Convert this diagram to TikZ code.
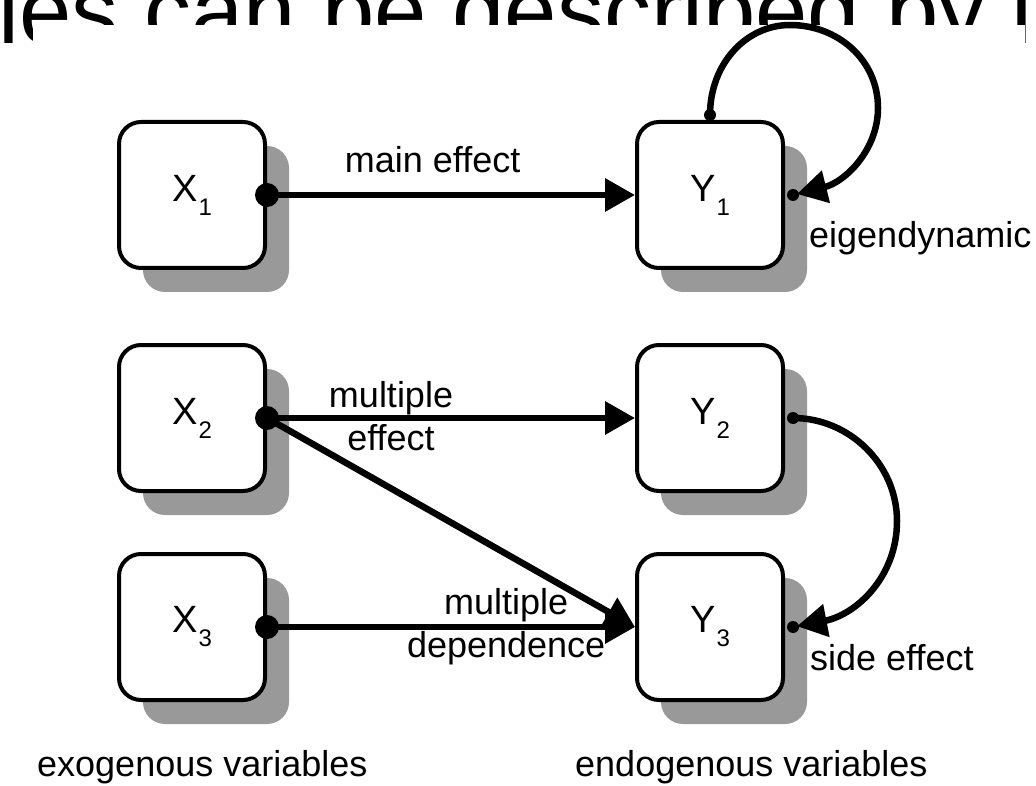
\documentclass[tikz,border=0pt]{standalone}
\usepackage{fontspec}
\setmainfont{Liberation Sans}
\usepackage{tikz}
\usetikzlibrary{arrows.meta}
\usetikzlibrary{shadows}

\definecolor{shadowgray}{RGB}{153,153,153}
\newcommand{\subvar}[2]{#1\raisebox{-14pt}{\fontsize{24}{24}\selectfont\kern1pt #2}}

\begin{document}
\begin{tikzpicture}[x=1pt,y=-1pt]
      \useasboundingbox (0,0) rectangle (1036,786);
      \clip (0,0) rectangle (1036,786);

      % slide heading, mostly hidden behind the figure
      \node[anchor=base west,inner sep=0,font=\fontsize{94}{94}\selectfont] (heading) at (-2,44) {les can be described by l};
      \fill[white] (33,25) rectangle (1025,786);

      \begin{scope}[every node/.style={draw,line width=4pt,rounded corners=22pt,
          minimum width=146pt,minimum height=146pt,fill=white,
          font=\fontsize{38}{38}\selectfont,
          drop shadow={shadow xshift=24pt,shadow yshift=-24pt,fill=shadowgray,opacity=1}}]
        \node (X1) at (192,195) {\subvar{X}{1}};
        \node (X2) at (192,418) {\subvar{X}{2}};
        \node (X3) at (192,627) {\subvar{X}{3}};
        \node (Y1) at (710,195) {\subvar{Y}{1}};
        \node (Y2) at (710,418) {\subvar{Y}{2}};
        \node (Y3) at (710,627) {\subvar{Y}{3}};
      \end{scope}

      \coordinate (Y1top) at ([yshift=5pt]Y1.north);
      \coordinate (Y1right) at ([xshift=8pt]Y1.east);
      \coordinate (Y2right) at ([xshift=8pt]Y2.east);
      \coordinate (Y3right) at ([xshift=8pt]Y3.east);

      \begin{scope}[>={Triangle[length=30pt,width=32pt]},
          every node/.style={inner sep=0,font=\fontsize{36}{43}\selectfont,align=center},
          every edge/.style={draw=black,line width=6.5pt}]
        \path [->] (X1.east) edge node[pos=0.45,above=19pt] {main effect} (Y1.west);
        \path [->] (X2.east) edge node[pos=0.337,yshift=1.5pt] {multiple\\effect} (Y2.west);
        \path [->] (X2.east) edge (Y3.west);
        \path [->] (X3.east) edge node[pos=0.65] {multiple\\dependence} (Y3.west);
        \draw [->,line width=6.5pt,shorten >=4pt] (Y1top) .. controls (710,64) and (746,25) .. (790,25)
          .. controls (838,25) and (878,60) .. (878,108) .. controls (878,150) and (845,182) .. (Y1right);
        \draw [->,line width=6.5pt,shorten >=4pt] (Y2right) .. controls (850,418) and (897,465) .. (897,521)
          .. controls (897,578) and (855,615) .. (Y3right);

        \foreach \n in {X1,X2,X3} \fill (\n.east) circle (12pt);
        \foreach \c in {Y1top,Y1right,Y2right,Y3right} \fill (\c) circle (6pt);

        \node[anchor=base west] (eigen) at (809,248) {eigendynamic};
        \node[anchor=base west] (side) at (810,670) {side effect};
        \node[anchor=base west] (exo) at (37,776) {exogenous variables};
        \node[anchor=base west] (endo) at (575,776) {endogenous variables};
      \end{scope}
\end{tikzpicture}
\end{document}
